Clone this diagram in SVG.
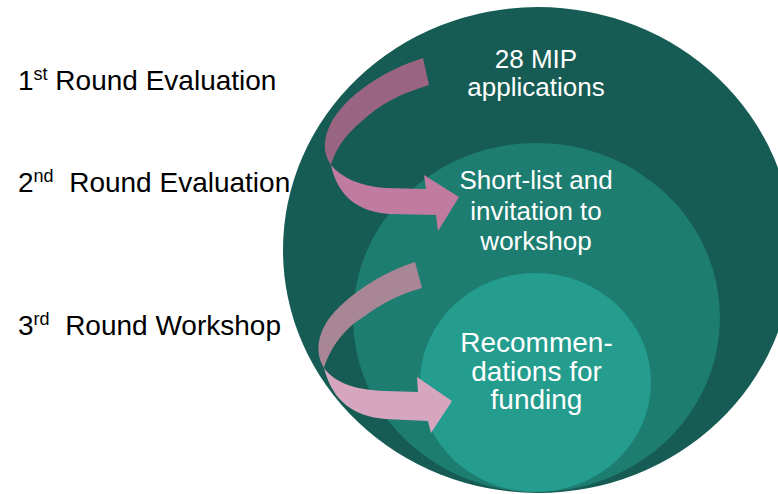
<svg xmlns="http://www.w3.org/2000/svg" width="778" height="494" viewBox="0 0 778 494">
<style>
.lbl{font-family:"Liberation Sans",Arial,sans-serif;font-size:28px;fill:#000;white-space:pre}
.sup{font-size:18px}
.in{font-family:"Liberation Sans",Arial,sans-serif;font-size:26px;fill:#fff;text-anchor:middle}
.big{font-size:28px}
</style>
<rect width="778" height="494" fill="#fff"/>
<g id="node-applications">
<ellipse cx="538" cy="250" rx="255" ry="243" fill="#165C54"/>
<text class="in"><tspan x="536" y="67.5">28 MIP</tspan><tspan x="536" y="95.5">applications</tspan></text>
</g>
<g id="node-shortlist">
<ellipse cx="536.5" cy="317.5" rx="183.5" ry="174.5" fill="#1D7D71"/>
<text class="in"><tspan x="536" y="188.5">Short-list and</tspan><tspan x="536" y="219.5">invitation to</tspan><tspan x="536" y="250">workshop</tspan></text>
</g>
<g id="node-recommendations">
<ellipse cx="535.5" cy="382.5" rx="115.5" ry="109.5" fill="#249C8E"/>
<text class="in big"><tspan x="536.5" y="351.5">Recommen-</tspan><tspan x="536.5" y="380.5">dations for</tspan><tspan x="536.5" y="409">funding</tspan></text>
</g>
<g id="connectors">
<g id="arrow-1">
<path d="M423,58 L429,85 C400,94 380,104 362,121 C345,135 335,150 331,165 C324,155 322,142 330,125 C345,95 385,70 423,58 Z" fill="#9A6580"/>
<path d="M331,165 C342,178 360,186 385,188 L426,189 L424,175 L459,197 L438,231 L436,215 L390,214 C360,212 338,198 331,165 Z" fill="#C17B9F"/>
</g>
<g id="arrow-2">
<path d="M415,262 L422,288 C400,294 380,304 362,318 C345,328 330,348 324,368 C316,355 316,338 328,320 C345,297 380,273 415,262 Z" fill="#A98696"/>
<path d="M324,368 C335,383 355,390 385,391 L418,392 L417,377 L452,401 L431,433 L428,421 L385,419 C355,416 333,403 324,368 Z" fill="#D6A6BF"/>
</g>
</g>
<g id="labels">
<text id="label-1" class="lbl" x="18" y="89.5">1<tspan class="sup" dy="-10">st</tspan><tspan dy="10"> Round Evaluation</tspan></text>
<text id="label-2" class="lbl" x="18" y="191.5">2<tspan class="sup" dy="-10">nd</tspan><tspan dy="10">  Round Evaluation</tspan></text>
<text id="label-3" class="lbl" x="18" y="335">3<tspan class="sup" dy="-10">rd</tspan><tspan dy="10">  Round Workshop</tspan></text>
</g>
</svg>
